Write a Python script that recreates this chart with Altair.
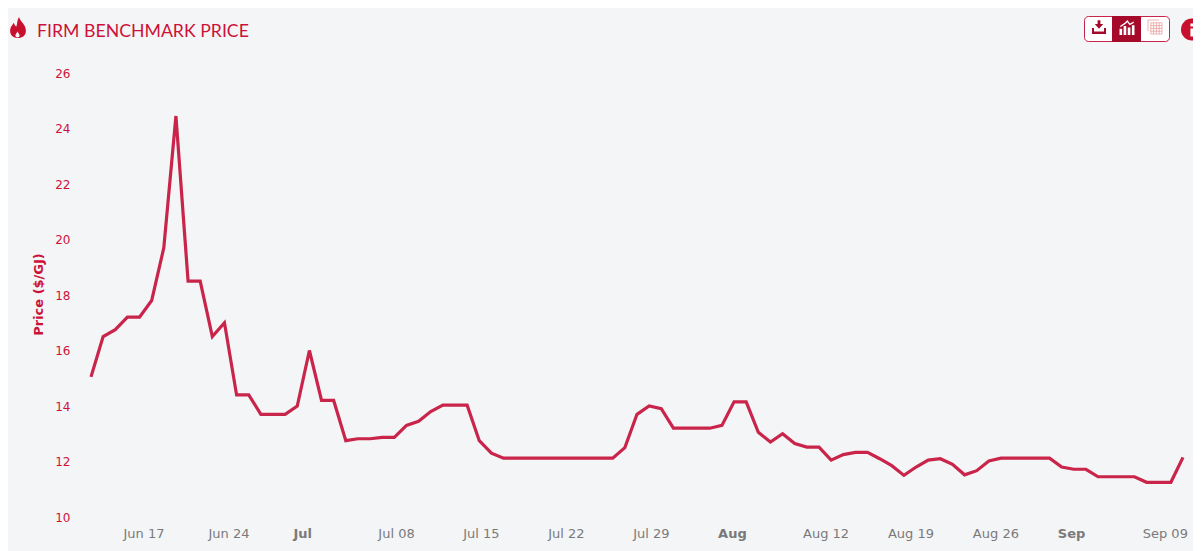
import altair as alt
import pandas as pd

start_date = "2024-06-13"
prices = [15.05, 16.5, 16.75, 17.2, 17.2, 17.8, 19.7, 24.45, 18.5, 18.5, 16.5, 17.0, 14.4, 14.4, 13.7, 13.7,
          13.7, 14.0, 16.0, 14.2, 14.2, 12.75, 12.82, 12.82, 12.87, 12.87, 13.3, 13.45, 13.8, 14.03, 14.03,
          14.03, 12.75, 12.3, 12.12, 12.12, 12.12, 12.12, 12.12, 12.12, 12.12, 12.12, 12.12, 12.12, 12.5,
          13.7, 14.0, 13.9, 13.2, 13.2, 13.2, 13.2, 13.3, 14.15, 14.15, 13.05, 12.7, 13.0, 12.65, 12.52,
          12.52, 12.05, 12.25, 12.33, 12.33, 12.1, 11.85, 11.5, 11.8, 12.05, 12.1, 11.9, 11.52, 11.67,
          12.02, 12.12, 12.12, 12.12, 12.12, 12.12, 11.8, 11.72, 11.72, 11.45, 11.45, 11.45, 11.45, 11.25,
          11.25, 11.25, 12.15]
tick_dates = ["2024-06-17", "2024-06-24", "2024-07-01", "2024-07-08", "2024-07-15", "2024-07-22", "2024-07-29",
              "2024-08-05", "2024-08-12", "2024-08-19", "2024-08-26", "2024-09-02", "2024-09-09"]
y_ticks = [10, 12, 14, 16, 18, 20, 22, 24, 26]
chart_title = "FIRM BENCHMARK PRICE"
y_title = "Price ($/GJ)"

RED = "#cc1238"
LINE = "#c9244a"
DARK = "#a50a2a"
OX, OY = 74, 8  # page-to-plot offset


def px(v):
    return alt.value(v - OX)


def py(v):
    return alt.value(v - OY)


df = pd.DataFrame({"date": pd.date_range(start_date, periods=len(prices), freq="D").strftime("%Y-%m-%dT00:00:00"),
                   "price": prices})

line = alt.Chart(df).mark_line(color=LINE, strokeWidth=3.2, strokeJoin="miter").encode(
    x=alt.X("date:T", title=None,
            scale=alt.Scale(range=[17, 1109]),
            axis=alt.Axis(values=[d + "T00:00:00" for d in tick_dates], grid=False, domain=False, ticks=False,
                          labelAlign="left", labelOffset=-16.5, labelFlush=False, labelOverlap=False,
                          labelFont="DejaVu Sans", labelFontSize=13, labelColor="#7a7a7a", labelPadding=16,
                          labelBaseline="middle",
                          labelExpr="date(datum.value) <= 7 ? timeFormat(datum.value, '%b') : timeFormat(datum.value, '%b %d')",
                          labelFontWeight=alt.expr("date(datum.value) <= 7 ? 'bold' : 'normal'"))),
    y=alt.Y("price:Q", title=y_title,
            scale=alt.Scale(domain=[10, 26], range=[509, 65], nice=False, zero=False),
            axis=alt.Axis(values=y_ticks, grid=False, domain=False, ticks=False,
                          labelFont="DejaVu Sans", labelFontSize=12, labelColor=RED, labelPadding=4,
                          titleFont="DejaVu Sans", titleFontSize=13, titleFontWeight="bold", titleColor=RED,
                          titleX=-29, titleY=286, titleAlign="center")),
)


def text(value, x, y, **kw):
    return alt.Chart(pd.DataFrame({"t": [value]})).mark_text(**kw).encode(text="t:N", x=px(x), y=py(y))


def symbol(path, x, y, size, **kw):
    return alt.Chart(pd.DataFrame({"s": [0]})).mark_point(shape=path, size=size * size, opacity=1, **kw).encode(x=px(x), y=py(y))


def box(x, x2, y, y2, **kw):
    return alt.Chart(pd.DataFrame({"s": [0]})).mark_rect(**kw).encode(x=px(x), x2=px(x2), y=py(y), y2=py(y2))


FLAME = "M0.1,-1 C0.2,-0.55 0.75,-0.3 0.75,0.3 C0.75,0.75 0.4,1 0,1 C-0.4,1 -0.75,0.75 -0.75,0.3 C-0.75,-0.05 -0.5,-0.25 -0.4,-0.45 C-0.3,-0.25 -0.3,-0.15 -0.15,-0.1 C-0.05,-0.4 -0.1,-0.7 0.1,-1 Z"
DROP = "M0,-1 C0.3,-0.4 0.7,-0.1 0.7,0.35 C0.7,0.75 0.35,1 0,1 C-0.35,1 -0.7,0.75 -0.7,0.35 C-0.7,-0.1 -0.3,-0.4 0,-1 Z"
ARROW = "M-0.33,-1 L0.33,-1 L0.33,-0.1 L1,-0.1 L0,1 L-1,-0.1 L-0.33,-0.1 Z"
BARS = "M-1,0.15 L-0.65,0.15 L-0.65,1 L-1,1 Z M-0.45,-0.2 L-0.1,-0.2 L-0.1,1 L-0.45,1 Z M0.1,0.0 L0.45,0.0 L0.45,1 L0.1,1 Z M0.65,-0.3 L1,-0.3 L1,1 L0.65,1 Z M-0.9,-0.25 L-0.3,-0.65 L0.05,-1 L0.4,-0.55 L0.9,-0.8 L0.9,-0.6 L0.35,-0.3 L0.05,-0.7 L-0.3,-0.4 L-0.9,-0.05 Z"
GRID = ("M-1,-1 L0.6,-1 M-1,-1 L-1,0.6 M-0.6,-0.6 L1,-0.6 L1,1 L-0.6,1 Z "
        "M-0.2,-0.6 L-0.2,1 M0.2,-0.6 L0.2,1 M0.6,-0.6 L0.6,1 "
        "M-0.6,-0.2 L1,-0.2 M-0.6,0.2 L1,0.2 M-0.6,0.6 L1,0.6")
I_DOT = "M-0.24,-1 L0.24,-1 L0.24,-0.55 L-0.24,-0.55 Z M-0.24,-0.25 L0.24,-0.25 L0.24,1 L-0.24,1 Z"

layers = [
    line,
    text(chart_title, 37, 32, font="Lato", fontSize=17.7, color=RED, align="left", baseline="middle"),
    symbol(FLAME, 18, 27.5, 21, color="#c8102e", filled=True),
    symbol(DROP, 17.5, 34.5, 6, color="#f4f5f7", filled=True),
    box(1084.5, 1169.5, 16.5, 41.5, color="#ffffff", stroke="#c9244a", strokeWidth=1, cornerRadius=4),
    box(1112, 1141, 16, 42, color=DARK),
    symbol(ARROW, 1099, 24.5, 8.5, color=DARK, filled=True),
    box(1092, 1106, 31.5, 34, color=DARK),
    box(1092, 1094, 28, 34, color=DARK),
    box(1104, 1106, 28, 34, color=DARK),
    symbol(BARS, 1127, 27.5, 15, color="#ffffff", filled=True),
    symbol(GRID, 1155, 27, 14, color="#e8a0a0", filled=False, strokeWidth=0.8),
    symbol("circle", 1192, 29.5, 22, color="#c8102e", filled=True),
    symbol(I_DOT, 1192, 30, 13, color="#ffffff", filled=True),
]

chart = alt.layer(*layers).properties(
    width=1119, height=509,
    padding={"left": 66, "top": 0, "right": 0, "bottom": 34},
    autosize=alt.AutoSizeParams(type="none"),
    background="#f4f5f7",
).configure_view(stroke=None)

chart.save("out.html", embed_options={"renderer": "svg", "actions": False})
